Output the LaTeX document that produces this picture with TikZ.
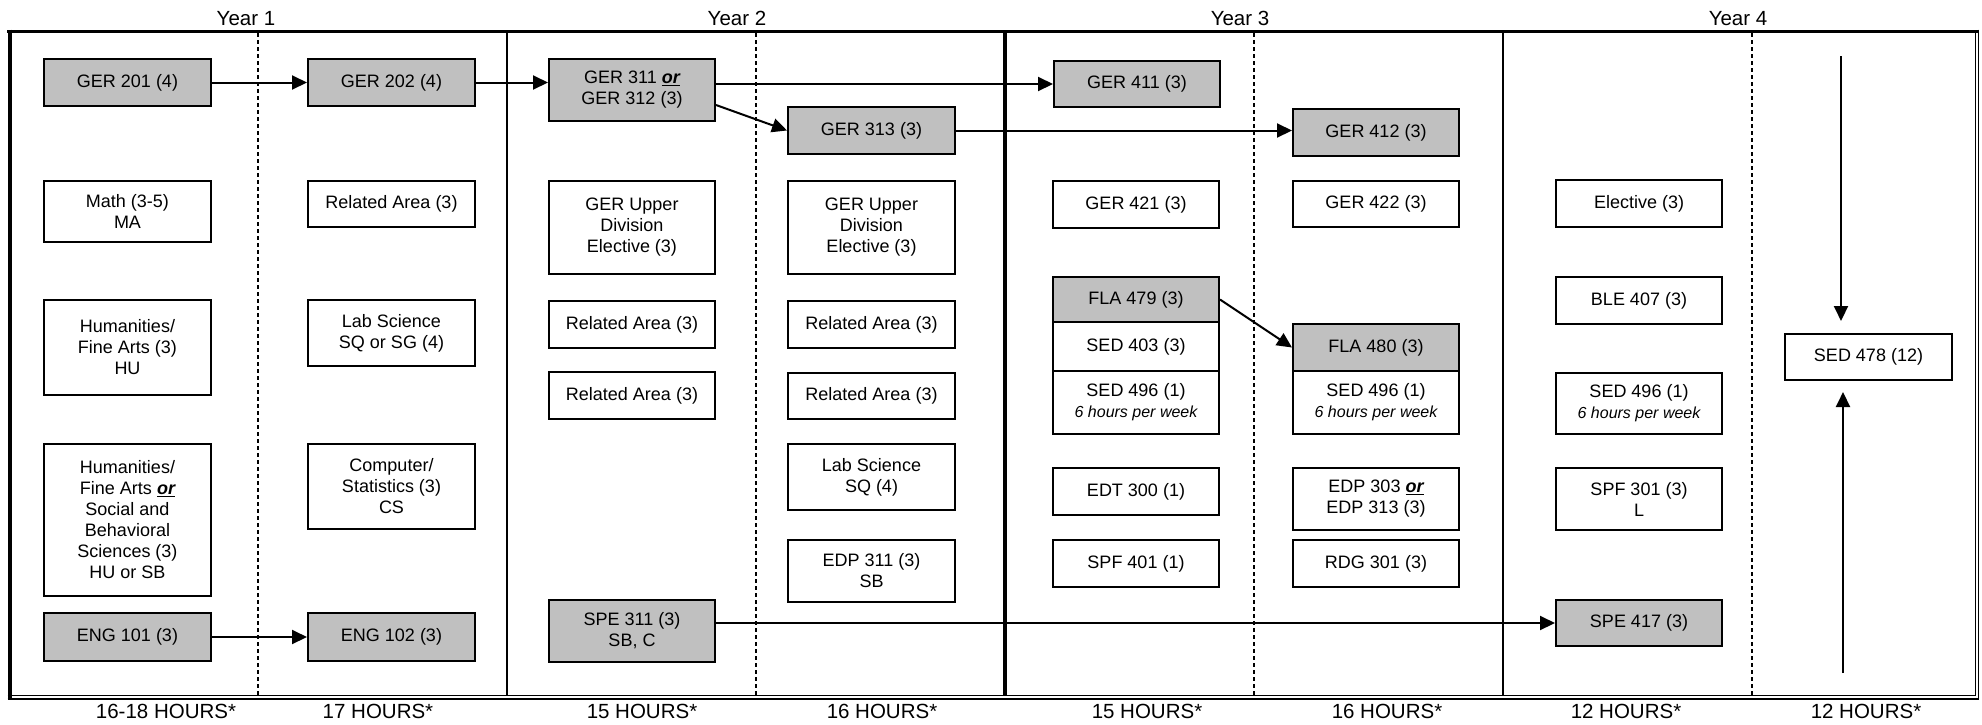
\documentclass[tikz,border=0pt]{standalone}
\usepackage{fontspec}
\setmainfont{Liberation Sans}
\usetikzlibrary{arrows.meta}
\definecolor{boxgray}{RGB}{192,192,192}
\newcommand{\orr}{\textbf{\textit{\underline{or}}}}
\newcommand{\hpw}{{\fontsize{16pt}{19pt}\selectfont\itshape 6 hours per week}}
\newcommand{\crs}[7]{\node[box,#6,minimum width={(#4-#2-1.8)*1pt},minimum height={(#5-#3-1.8)*1pt}] (#1) at ({(#2+#4)/2},{(#3+#5)/2}) {#7};}
\begin{document}
\begin{tikzpicture}[x=1pt,y=-1pt,
  box/.style={draw=black, line width=1.8pt, inner sep=0pt, align=center, font=\fontsize{18pt}{21pt}\selectfont},
  gbox/.style={fill=boxgray},
  arr/.style={line width=2pt, -{Triangle[length=15pt,width=14pt]}},
  dotdiv/.style={line width=2pt, dash pattern=on 4pt off 3pt},
  lab/.style={inner sep=0pt, anchor=base, font=\fontsize{20.5pt}{24pt}\selectfont}]
\useasboundingbox (0,0) rectangle (1982,724);
% frame
\draw[line width=3pt] (7,31) -- (1979,31);
\draw[line width=4pt] (9.5,29.5) -- (9.5,700);
\draw[line width=1.4pt] (1975.5,31) -- (1975.5,695.5);
\draw[line width=1.4pt] (1978.6,29.5) -- (1978.6,700);
\draw[line width=1.4pt] (7.5,695.5) -- (1975.5,695.5);
\draw[line width=2.2pt] (7.5,699) -- (1979.3,699);
% dividers
\draw[line width=2pt] (507,31) -- (507,695.5);
\draw[line width=4pt] (1005,31) -- (1005,695.5);
\draw[line width=2pt] (1503,31) -- (1503,695.5);
\foreach \xx in {258,756,1254,1752} \draw[dotdiv] (\xx,33) -- (\xx,695);
% year labels
\node[lab] (yr1) at (246,25) {Year 1};
\node[lab] (yr2) at (737,25) {Year 2};
\node[lab] (yr3) at (1240,25) {Year 3};
\node[lab] (yr4) at (1738,25) {Year 4};
% hours labels
\node[lab] (hr1) at (166,718) {16-18 HOURS*};
\node[lab] (hr2) at (378,718) {17 HOURS*};
\node[lab] (hr3) at (642,718) {15 HOURS*};
\node[lab] (hr4) at (882,718) {16 HOURS*};
\node[lab] (hr5) at (1147,718) {15 HOURS*};
\node[lab] (hr6) at (1387,718) {16 HOURS*};
\node[lab] (hr7) at (1626,718) {12 HOURS*};
\node[lab] (hr8) at (1866,718) {12 HOURS*};
% Year 1, semester 1
\crs{ger201}{43}{58}{212}{107}{gbox}{GER 201 (4)}
\crs{math}{43}{180}{212}{243}{}{Math (3-5)\\MA}
\crs{huma}{43}{299}{212}{396}{}{Humanities/\\Fine Arts (3)\\HU}
\crs{humb}{43}{443}{212}{597}{}{Humanities/\\Fine Arts \orr\\Social and\\Behavioral\\Sciences (3)\\HU or SB}
\crs{eng101}{43}{612}{212}{662}{gbox}{ENG 101 (3)}
% Year 1, semester 2
\crs{ger202}{307}{58}{476}{107}{gbox}{GER 202 (4)}
\crs{rela}{307}{180}{476}{228}{}{Related Area (3)}
\crs{laba}{307}{299}{476}{367}{}{Lab Science\\SQ or SG (4)}
\crs{comp}{307}{443}{476}{530}{}{Computer/\\Statistics (3)\\CS}
\crs{eng102}{307}{612}{476}{662}{gbox}{ENG 102 (3)}
% Year 2, semester 1
\crs{ger311}{548}{58}{716}{122}{gbox}{GER 311 \orr\\GER 312 (3)}
\crs{guda}{548}{180}{716}{275}{}{GER Upper\\Division\\Elective (3)}
\crs{relb}{548}{300}{716}{349}{}{Related Area (3)}
\crs{relc}{548}{371}{716}{420}{}{Related Area (3)}
\crs{spe311}{548}{599}{716}{663}{gbox}{SPE 311 (3)\\SB, C}
% Year 2, semester 2
\crs{ger313}{787}{106}{956}{155}{gbox}{GER 313 (3)}
\crs{gudb}{787}{180}{956}{275}{}{GER Upper\\Division\\Elective (3)}
\crs{reld}{787}{300}{956}{349}{}{Related Area (3)}
\crs{rele}{787}{372}{956}{420}{}{Related Area (3)}
\crs{labb}{787}{443}{956}{511}{}{Lab Science\\SQ (4)}
\crs{edp311}{787}{539}{956}{603}{}{EDP 311 (3)\\SB}
% Year 3, semester 1
\crs{ger411}{1053}{60}{1221}{108}{gbox}{GER 411 (3)}
\crs{ger421}{1052}{180}{1220}{229}{}{GER 421 (3)}
\crs{fla479}{1052}{276}{1220}{323}{gbox}{FLA 479 (3)}
\crs{sed403}{1052}{321.2}{1220}{372}{}{SED 403 (3)}
\crs{sedA}{1052}{370.2}{1220}{435}{}{SED 496 (1)\\\hpw}
\crs{edt300}{1052}{467}{1220}{516}{}{EDT 300 (1)}
\crs{spf401}{1052}{539}{1220}{588}{}{SPF 401 (1)}
% Year 3, semester 2
\crs{ger412}{1292}{108}{1460}{157}{gbox}{GER 412 (3)}
\crs{ger422}{1292}{180}{1460}{228}{}{GER 422 (3)}
\crs{fla480}{1292}{323}{1460}{372}{gbox}{FLA 480 (3)}
\crs{sedB}{1292}{370.2}{1460}{435}{}{SED 496 (1)\\\hpw}
\crs{edp303}{1292}{467}{1460}{531}{}{EDP 303 \orr\\EDP 313 (3)}
\crs{rdg301}{1292}{539}{1460}{588}{}{RDG 301 (3)}
% Year 4, semester 1
\crs{elect}{1555}{179}{1723}{228}{}{Elective (3)}
\crs{ble407}{1555}{276}{1723}{325}{}{BLE 407 (3)}
\crs{sedC}{1555}{372}{1723}{435}{}{SED 496 (1)\\\hpw}
\crs{spf301}{1555}{467}{1723}{531}{}{SPF 301 (3)\\L}
\crs{spe417}{1555}{599}{1723}{647}{gbox}{SPE 417 (3)}
% Year 4, semester 2
\crs{sed478}{1784}{333}{1953}{381}{}{SED 478 (12)}
% connectors
\draw[arr] (ger201.east) -- (ger202.west);
\draw[arr] (ger202.east) -- (ger202.east -| ger311.west);
\draw[arr] (ger311.east |- ger411.west) -- (ger411.west);
\draw[arr] ([yshift=-15pt]ger311.east) -- (ger313.west);
\draw[arr] (ger313.east) -- (ger313.east -| ger412.west);
\draw[arr] (fla479.east) -- (fla480.west);
\draw[arr] (eng101.east) -- (eng102.west);
\draw[arr] (spe311.east |- spe417.west) -- (spe417.west);
\coordinate (dtop) at (1841,56);
\coordinate (ubot) at (1843,673);
\draw[arr, shorten >=12pt] (dtop) -- (dtop |- sed478.north);
\draw[arr, shorten >=11pt] (ubot) -- (ubot |- sed478.south);
\end{tikzpicture}
\end{document}
